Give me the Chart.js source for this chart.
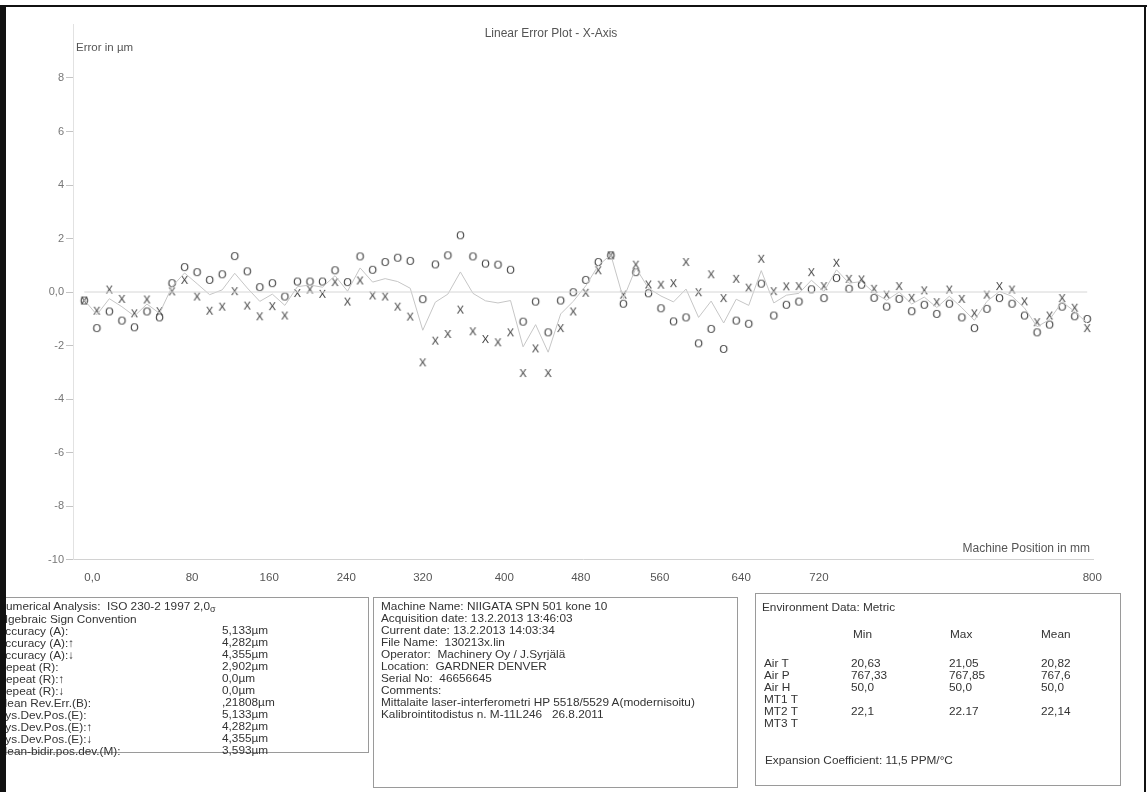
<!DOCTYPE html>
<html>
<head>
<meta charset="utf-8">
<script src="https://cdn.jsdelivr.net/npm/chart.js@4.4.1/dist/chart.umd.min.js"></script>
<style>
  html, body { margin:0; padding:0; background:#fff; }
  #page { position:relative; width:1147px; height:792px; overflow:hidden; background:#fff; }
  #c { position:absolute; left:0; top:0; }
  .t { position:absolute; font-family:"Liberation Sans", Arial, sans-serif; color:#333; white-space:nowrap; }
  .ax { color:#555; font-size:11.5px; line-height:12px; }
  .box { position:absolute; border:1px solid #9a9a9a; box-sizing:border-box; }
  .blk { font-size:11.8px; line-height:12px; }
  .frame { position:absolute; background:#111; }
  .sg { font-size:9px; position:relative; top:2px; }
</style>
</head>
<body>
<div id="page">
  <canvas id="c" width="1147" height="600"></canvas>

  <div class="t ax" style="left:451px;top:27px;width:200px;text-align:center;font-size:12px;">Linear Error Plot - X-Axis</div>
  <div class="t ax" style="left:76px;top:41px;">Error in µm</div>
  <div class="t ax" style="left:950px;top:542px;width:140px;text-align:right;font-size:12px;">Machine Position in mm</div>

  <!-- Box 1 -->
  <div class="box" style="left:-20px;top:597px;width:389px;height:156px;"></div>
  <div class="t blk" style="left:-2.5px;top:600px;">
    Numerical Analysis:&nbsp; ISO 230-2 1997 2,0<span class="sg">σ</span><br>
    Algebraic Sign Convention<br>
    Accuracy (A):<br>
    Accuracy (A):↑<br>
    Accuracy (A):↓<br>
    Repeat (R):<br>
    Repeat (R):↑<br>
    Repeat (R):↓<br>
    Mean Rev.Err.(B):<br>
    Sys.Dev.Pos.(E):<br>
    Sys.Dev.Pos.(E):↑<br>
    Sys.Dev.Pos.(E):↓<br>
    Mean-bidir.pos.dev.(M):
  </div>
  <div class="t blk" style="left:222px;top:624px;">
    5,133µm<br>4,282µm<br>4,355µm<br>2,902µm<br>0,0µm<br>0,0µm<br>,21808µm<br>5,133µm<br>4,282µm<br>4,355µm<br>3,593µm
  </div>

  <!-- Box 2 -->
  <div class="box" style="left:373px;top:597px;width:365px;height:191px;"></div>
  <div class="t blk" style="left:381px;top:600px;">
    Machine Name: NIIGATA SPN 501 kone 10<br>
    Acquisition date: 13.2.2013 13:46:03<br>
    Current date: 13.2.2013 14:03:34<br>
    File Name:&nbsp; 130213x.lin<br>
    Operator:&nbsp; Machinery Oy / J.Syrjälä<br>
    Location:&nbsp; GARDNER DENVER<br>
    Serial No:&nbsp; 46656645<br>
    Comments:<br>
    Mittalaite laser-interferometri HP 5518/5529 A(modernisoitu)<br>
    Kalibrointitodistus n. M-11L246&nbsp;&nbsp; 26.8.2011
  </div>

  <!-- Box 3 -->
  <div class="box" style="left:755px;top:593px;width:366px;height:193px;"></div>
  <div class="t blk" style="left:762px;top:601px;">Environment Data: Metric</div>
  <div class="t blk" style="left:853px;top:628px;">Min</div>
  <div class="t blk" style="left:950px;top:628px;">Max</div>
  <div class="t blk" style="left:1041px;top:628px;">Mean</div>
  <div class="t blk" style="left:764px;top:657px;">Air T<br>Air P<br>Air H<br>MT1 T<br>MT2 T<br>MT3 T</div>
  <div class="t blk" style="left:851px;top:657px;">20,63<br>767,33<br>50,0<br><br>22,1</div>
  <div class="t blk" style="left:949px;top:657px;">21,05<br>767,85<br>50,0<br><br>22.17</div>
  <div class="t blk" style="left:1041px;top:657px;">20,82<br>767,6<br>50,0<br><br>22,14</div>
  <div class="t blk" style="left:765px;top:754px;">Expansion Coefficient: 11,5 PPM/°C</div>

  <!-- scan frame -->
  <div class="frame" style="left:0;top:5px;width:1147px;height:2px;"></div>
  <div class="frame" style="left:0;top:5px;width:6px;height:787px;"></div>
  <div class="frame" style="left:1144px;top:5px;width:2px;height:787px;"></div>
</div>

<script>
// ---- data ----
const positions = [0,10,20,30,40,50,60,70,80,90,100,110,120,130,140,150,160,170,180,190,
  200,210,220,230,240,250,260,270,280,290,300,310,320,330,340,350,360,370,380,390,
  400,410,420,430,440,450,460,470,480,490,500,510,520,530,540,550,560,570,580,590,
  600,610,620,630,640,650,660,670,680,690,700,710,720,730,740,750,760,770,780,790,800];

// "x" markers
const runX = [-0.30,-0.68,0.11,-0.24,-0.78,-0.26,-0.70,0.04,0.47,-0.15,
  -0.68,-0.53,0.05,-0.49,-0.89,-0.51,-0.86,-0.02,0.11,-0.05,
  0.39,-0.34,0.45,-0.11,-0.15,-0.53,-0.90,-2.61,-1.80,-1.55,
  -0.64,-1.45,-1.74,-1.86,-1.49,-3.01,-2.09,-3.01,-1.33,-0.71,
  -0.01,0.83,1.39,-0.08,1.04,0.30,0.29,0.35,1.14,0.01,
  0.68,-0.21,0.51,0.18,1.26,0.05,0.23,0.24,0.76,0.24,
  1.11,0.51,0.49,0.14,-0.08,0.24,-0.20,0.08,-0.36,0.11,
  -0.24,-0.78,-0.08,0.24,0.11,-0.33,-1.11,-0.86,-0.21,-0.57,-1.33];

// "o" markers
const runO = [-0.30,-1.33,-0.71,-1.05,-1.30,-0.71,-0.93,0.35,0.95,0.76,
  0.47,0.68,1.36,0.79,0.20,0.35,-0.15,0.41,0.41,0.41,
  0.83,0.39,1.35,0.85,1.14,1.30,1.18,-0.25,1.05,1.39,
  2.14,1.35,1.08,1.04,0.85,-1.09,-0.34,-1.49,-0.30,0.01,
  0.47,1.14,1.39,-0.42,0.76,-0.03,-0.59,-1.08,-0.93,-1.90,
  -1.36,-2.11,-1.05,-1.17,0.33,-0.86,-0.46,-0.34,0.12,-0.21,
  0.54,0.14,0.29,-0.20,-0.53,-0.24,-0.70,-0.46,-0.80,-0.42,
  -0.93,-1.33,-0.61,-0.21,-0.42,-0.86,-1.49,-1.20,-0.53,-0.89,-0.99];

// mean line
const meanLine = [-0.30,-0.85,-0.25,-0.55,-0.90,-0.45,-0.80,0.20,0.71,0.31,
  -0.10,0.08,0.70,0.15,-0.35,-0.08,-0.50,0.20,0.26,0.18,
  0.61,0.03,0.90,0.37,0.50,0.39,0.14,-1.43,-0.38,-0.08,
  0.75,-0.05,-0.33,-0.41,-0.32,-2.05,-1.22,-2.25,-0.82,-0.35,
  0.23,0.99,1.39,-0.25,0.90,0.14,-0.15,-0.37,0.11,-0.95,
  -0.34,-1.16,-0.27,-0.50,0.80,-0.41,-0.12,-0.05,0.44,0.02,
  0.83,0.33,0.39,-0.03,-0.31,0.00,-0.45,-0.19,-0.58,-0.16,
  -0.59,-1.06,-0.35,0.02,-0.16,-0.60,-1.30,-1.03,-0.37,-0.73,-1.16];

const zeroLine = [0, 0];
const zeroEnds = [0, 800];

const xTickLabels = ['0,0','80','160','240','320','400','480','560','640','720','800'];
const yTickValues = [10,8,6,4,2,0,-2,-4,-6,-8,-10];

// ---- layout (where the printed tick labels sit along the axis, in mm) ----
const xTickPlacement = [6.4, 86, 147.5, 209, 270, 335, 396, 459, 524, 586, 804];

function glyph(ch) {
  const c = document.createElement('canvas');
  c.width = 11; c.height = 13;
  const g = c.getContext('2d');
  g.fillStyle = '#383838';
  g.font = '11px "Liberation Sans Narrow", "Liberation Sans", Arial, sans-serif';
  g.textAlign = 'center';
  g.textBaseline = 'alphabetic';
  g.fillText(ch, 5.5, 10.5);
  return c;
}

const pts = (xs, ys) => xs.map((x, i) => ({ x: x, y: ys[i] }));

new Chart(document.getElementById('c'), {
  type: 'scatter',
  data: {
    datasets: [
      { data: pts(zeroEnds, zeroLine), showLine: true, borderColor: '#d6d6d6', borderWidth: 1, pointRadius: 0 },
      { data: pts(positions, meanLine), showLine: true, borderColor: '#c6c6c6', borderWidth: 1, pointRadius: 0, tension: 0 },
      { data: pts(positions, runX), showLine: false, pointStyle: glyph('X'), pointRadius: 5 },
      { data: pts(positions, runO), showLine: false, pointStyle: glyph('O'), pointRadius: 5 }
    ]
  },
  options: {
    responsive: false,
    animation: false,
    devicePixelRatio: 1,
    layout: { padding: { left: 0, top: 24.5, right: 53.5, bottom: 0 } },
    plugins: { legend: { display: false }, tooltip: { enabled: false }, title: { display: false } },
    scales: {
      x: {
        type: 'linear', min: -9, max: 805,
        grid: { display: false, drawTicks: false },
        border: { display: true, color: '#d2d2d2', dash: [3, 2] },
        ticks: {
          autoSkip: false, maxRotation: 0, padding: 11,
          color: '#555', font: { family: '"Liberation Sans Narrow", "Liberation Sans", Arial', size: 11.5 },
          callback: (v, i) => xTickLabels[i]
        },
        afterBuildTicks: s => { s.ticks = xTickPlacement.map(v => ({ value: v })); },
        afterFit: s => { s.height = 40.5; }
      },
      y: {
        min: -10, max: 10,
        afterBuildTicks: s => { s.ticks = yTickValues.map(v => ({ value: v })); },
        ticks: {
          padding: 2, color: '#777',
          font: { family: '"Liberation Sans Narrow", "Liberation Sans", Arial', size: 11 },
          callback: v => v === 10 ? '' : (v === 0 ? '0,0' : String(v))
        },
        grid: {
          drawOnChartArea: false, tickLength: 7,
          color: ctx => (ctx.tick && ctx.tick.value === 10) ? 'rgba(0,0,0,0)' : '#c4c4c4'
        },
        border: { color: '#e2e2e2' },
        afterFit: s => { s.width = 73; }
      }
    }
  }
});
</script>
</body>
</html>
